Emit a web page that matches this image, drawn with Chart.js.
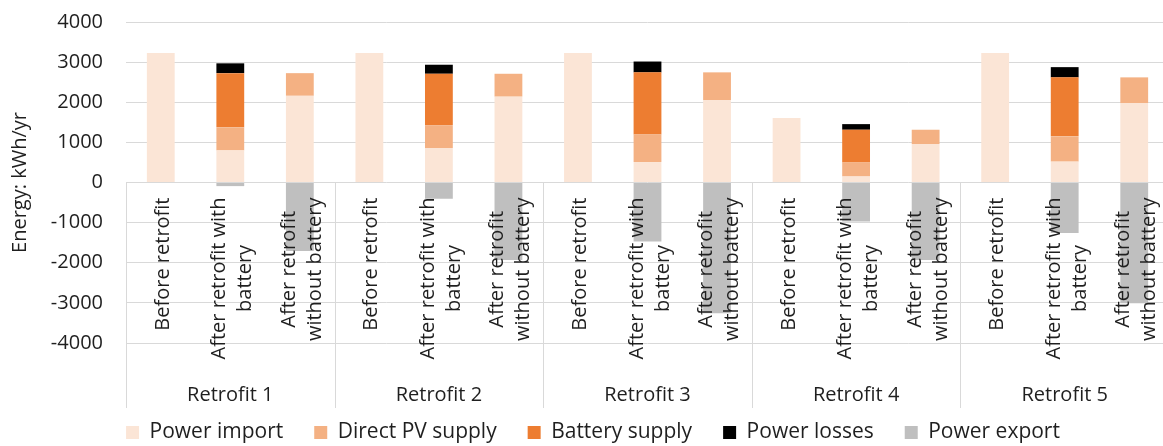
<!DOCTYPE html>
<html>
<head>
<meta charset="utf-8">
<script src="https://cdn.jsdelivr.net/npm/chart.js@4.4.1/dist/chart.umd.min.js"></script>
<style>
  html, body { margin: 0; padding: 0; background: #fff; overflow: hidden; }
  #wrap { width: 1169px; height: 453px; }
</style>
</head>
<body>
<div id="wrap"><canvas id="energyChart" width="1169" height="453"></canvas></div>
<script>
const groups = ['Retrofit 1', 'Retrofit 2', 'Retrofit 3', 'Retrofit 4', 'Retrofit 5'];
const scenarios = ['Before retrofit', ['After retrofit with', 'battery'], ['After retrofit', 'without battery']];
const categories = groups.flatMap(() => scenarios);

const powerImport   = [3225, 800, 2160, 3225, 860, 2140, 3225, 510, 2055, 1605, 150, 960, 3225, 520, 1980];
const directPV      = [0, 575, 565, 0, 570, 570, 0, 695, 690, 0, 350, 355, 0, 630, 640];
const batterySupply = [0, 1350, 0, 0, 1280, 0, 0, 1540, 0, 0, 815, 0, 0, 1470, 0];
const powerLosses   = [0, 245, 0, 0, 225, 0, 0, 270, 0, 0, 140, 0, 0, 255, 0];
const powerExport   = [0, -90, -1710, 0, -405, -1930, 0, -1470, -3260, 0, -975, -1930, 0, -1260, -3010];

const yTicks = [-4000, -3000, -2000, -1000, 0, 1000, 2000, 3000, 4000];

const textColor = '#1f1f1f';
const gridColor = '#d9d9d9';
Chart.defaults.font.family = "'Open Sans', sans-serif";
Chart.defaults.color = textColor;

// category labels under the zero line, separators and group names
const groupAxis = {
    id: 'groupAxis',
    beforeDatasetsDraw(chart) {
        const { ctx, chartArea, scales: { y } } = chart;
        const zeroY = y.getPixelForValue(0);
        const w = (chartArea.right - chartArea.left) / groups.length;
        ctx.save();
        ctx.strokeStyle = gridColor;
        ctx.lineWidth = 1;
        for (let k = 0; k <= groups.length; k++) {
            const gx = Math.round(chartArea.left + k * w) + 0.5;
            ctx.beginPath();
            ctx.moveTo(gx, zeroY);
            ctx.lineTo(gx, chartArea.bottom + 65);
            ctx.stroke();
        }
        ctx.restore();
    },
    afterDatasetsDraw(chart) {
        const { ctx, chartArea, scales: { x, y } } = chart;
        const zeroY = y.getPixelForValue(0);
        ctx.save();
        ctx.fillStyle = textColor;
        ctx.font = "20px 'Open Sans', sans-serif";
        categories.forEach((label, i) => {
            const lines = Array.isArray(label) ? label : [label];
            const maxW = Math.max(...lines.map(l => ctx.measureText(l).width));
            const cx = x.getPixelForValue(i);
            ctx.save();
            ctx.translate(cx, zeroY + 15);
            ctx.rotate(-Math.PI / 2);
            ctx.textAlign = 'center';
            ctx.textBaseline = 'alphabetic';
            lines.forEach((line, j) => {
                ctx.fillText(line, -maxW / 2, (j - (lines.length - 1) / 2) * 26 + 8);
            });
            ctx.restore();
        });
        const w = (chartArea.right - chartArea.left) / groups.length;
        ctx.textAlign = 'center';
        ctx.textBaseline = 'middle';
        groups.forEach((g, k) => {
            ctx.fillText(g, chartArea.left + (k + 0.5) * w, chartArea.bottom + 52);
        });
        ctx.restore();
    }
};

const ctx = document.getElementById('energyChart').getContext('2d');
new Chart(ctx, {
    type: 'bar',
    data: {
        labels: categories,
        datasets: [
            { label: 'Power import', data: powerImport, backgroundColor: '#fbe5d6' },
            { label: 'Direct PV supply', data: directPV, backgroundColor: '#f4b183' },
            { label: 'Battery supply', data: batterySupply, backgroundColor: '#ed7d31' },
            { label: 'Power losses', data: powerLosses, backgroundColor: '#000000' },
            { label: 'Power export', data: powerExport, backgroundColor: '#bfbfbf' }
        ]
    },
    options: {
        responsive: false,
        animation: false,
        devicePixelRatio: 1,
        datasets: {
            bar: { barPercentage: 0.4, categoryPercentage: 1, borderWidth: 0 }
        },
        layout: { padding: { top: 22, left: 17, right: 0, bottom: 0 } },
        scales: {
            x: {
                stacked: true,
                grid: { display: false },
                border: { display: false },
                ticks: { display: false },
                afterFit(scale) { scale.height = 48; }
            },
            y: {
                stacked: true,
                min: -4000,
                max: 4000,
                afterBuildTicks(scale) { scale.ticks = yTicks.map(v => ({ value: v })); },
                grid: { color: gridColor, lineWidth: 1, drawTicks: false },
                border: { display: false },
                ticks: { padding: 23, font: { size: 20 }, color: textColor, callback: v => String(v) },
                title: {
                    display: true,
                    text: 'Energy: kWh/yr',
                    font: { size: 20 },
                    color: textColor,
                    padding: { top: -9, bottom: 0 }
                },
                afterFit(scale) {
                    scale.width = 109;
                    scale.paddingTop = 12;
                }
            }
        },
        plugins: {
            legend: {
                position: 'bottom',
                labels: {
                    boxWidth: 13,
                    boxHeight: 13,
                    padding: 31,
                    font: { size: 21 },
                    color: textColor
                }
            },
            tooltip: { enabled: false }
        }
    },
    plugins: [groupAxis]
});
</script>
</body>
</html>
